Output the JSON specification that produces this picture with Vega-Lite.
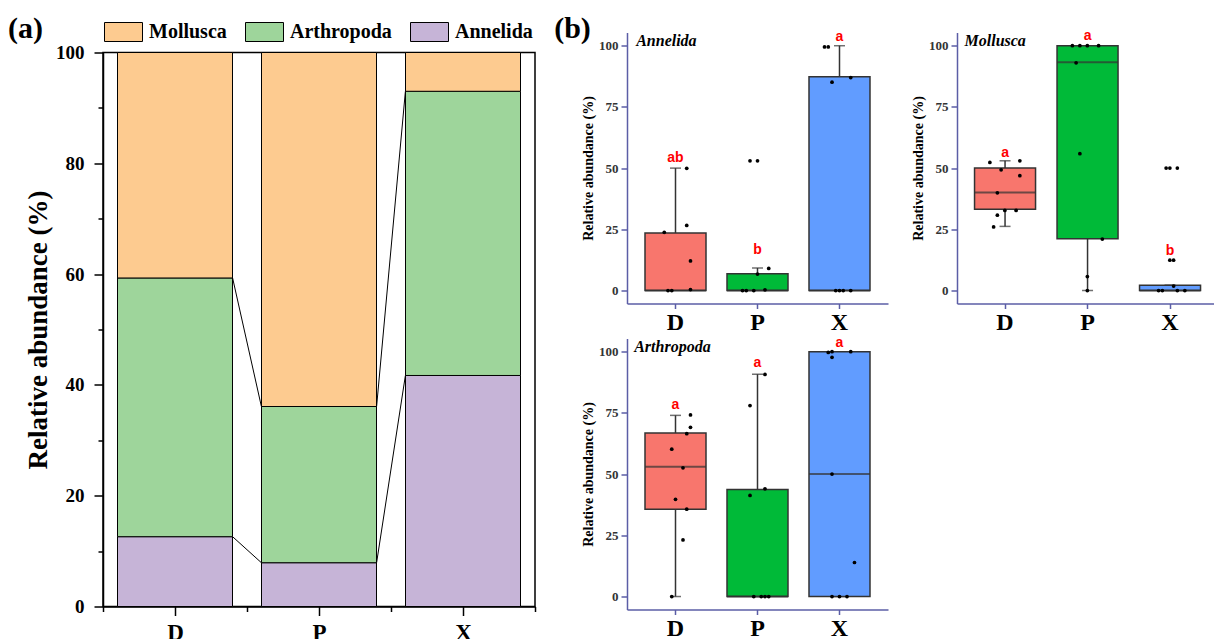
{
  "$schema": "https://vega.github.io/schema/vega-lite/v6.json",
  "background": "white",
  "padding": {"left": 7, "top": 12.5, "right": 0, "bottom": 0},
  "config": {
    "font": "Liberation Serif",
    "view": {"stroke": null},
    "axis": {"grid": false}
  },
  "datasets": {
    "comp": [
      {"site": "D", "phylum": "Annelida", "pct": 12.6},
      {"site": "D", "phylum": "Arthropoda", "pct": 46.7},
      {"site": "D", "phylum": "Mollusca", "pct": 40.7},
      {"site": "P", "phylum": "Annelida", "pct": 7.9},
      {"site": "P", "phylum": "Arthropoda", "pct": 28.2},
      {"site": "P", "phylum": "Mollusca", "pct": 63.9},
      {"site": "X", "phylum": "Annelida", "pct": 41.7},
      {"site": "X", "phylum": "Arthropoda", "pct": 51.3},
      {"site": "X", "phylum": "Mollusca", "pct": 7.0}
    ],
    "links": [
      {"from": "D", "to": "P", "y0": 12.6, "y1": 7.9},
      {"from": "D", "to": "P", "y0": 59.3, "y1": 36.1},
      {"from": "P", "to": "X", "y0": 7.9, "y1": 41.7},
      {"from": "P", "to": "X", "y0": 36.1, "y1": 93.0}
    ],
    "boxes": [
      {"panel": "Annelida", "group": "D", "lo": 0, "q1": 0, "med": 0, "q3": 23.5, "hi": 50},
      {"panel": "Annelida", "group": "P", "lo": 0, "q1": 0, "med": 0, "q3": 6.9, "hi": 9.2},
      {"panel": "Annelida", "group": "X", "lo": 0, "q1": 0, "med": 0, "q3": 87.3, "hi": 100},
      {"panel": "Mollusca", "group": "D", "lo": 26.2, "q1": 33.2, "med": 40, "q3": 50, "hi": 53},
      {"panel": "Mollusca", "group": "P", "lo": 0, "q1": 21.2, "med": 93.2, "q3": 100, "hi": 100},
      {"panel": "Mollusca", "group": "X", "lo": 0, "q1": 0, "med": 0, "q3": 2.2, "hi": 2.2},
      {"panel": "Arthropoda", "group": "D", "lo": 0, "q1": 35.7, "med": 53, "q3": 66.8, "hi": 74},
      {"panel": "Arthropoda", "group": "P", "lo": 0, "q1": 0, "med": 0, "q3": 43.7, "hi": 90.8},
      {"panel": "Arthropoda", "group": "X", "lo": 0, "q1": 0, "med": 50, "q3": 100, "hi": 100}
    ],
    "pts": [
      {"panel": "Annelida", "group": "D", "s": 2, "v": 23.8},
      {"panel": "Annelida", "group": "D", "s": 8, "v": 49.9},
      {"panel": "Annelida", "group": "D", "s": 8, "v": 26.6},
      {"panel": "Annelida", "group": "D", "s": 9, "v": 12.1},
      {"panel": "Annelida", "group": "D", "s": 3, "v": 0},
      {"panel": "Annelida", "group": "D", "s": 4, "v": 0},
      {"panel": "Annelida", "group": "D", "s": 9, "v": 0.4},
      {"panel": "Annelida", "group": "P", "s": 3, "v": 53},
      {"panel": "Annelida", "group": "P", "s": 5, "v": 53},
      {"panel": "Annelida", "group": "P", "s": 5, "v": 6.7},
      {"panel": "Annelida", "group": "P", "s": 8, "v": 9},
      {"panel": "Annelida", "group": "P", "s": 1, "v": 0},
      {"panel": "Annelida", "group": "P", "s": 2, "v": 0},
      {"panel": "Annelida", "group": "P", "s": 4, "v": 0},
      {"panel": "Annelida", "group": "P", "s": 7, "v": 0.3},
      {"panel": "Annelida", "group": "X", "s": 1, "v": 99.5},
      {"panel": "Annelida", "group": "X", "s": 2, "v": 99.5},
      {"panel": "Annelida", "group": "X", "s": 3, "v": 85.1},
      {"panel": "Annelida", "group": "X", "s": 8, "v": 87},
      {"panel": "Annelida", "group": "X", "s": 4, "v": 0},
      {"panel": "Annelida", "group": "X", "s": 5, "v": 0},
      {"panel": "Annelida", "group": "X", "s": 6, "v": 0},
      {"panel": "Annelida", "group": "X", "s": 8, "v": 0},
      {"panel": "Mollusca", "group": "D", "s": 1, "v": 52.3},
      {"panel": "Mollusca", "group": "D", "s": 4, "v": 49.3},
      {"panel": "Mollusca", "group": "D", "s": 9, "v": 46.9},
      {"panel": "Mollusca", "group": "D", "s": 3, "v": 39.9},
      {"panel": "Mollusca", "group": "D", "s": 5, "v": 32.7},
      {"panel": "Mollusca", "group": "D", "s": 8, "v": 32.7},
      {"panel": "Mollusca", "group": "D", "s": 3, "v": 30.8},
      {"panel": "Mollusca", "group": "D", "s": 2, "v": 26},
      {"panel": "Mollusca", "group": "D", "s": 9, "v": 53},
      {"panel": "Mollusca", "group": "P", "s": 1, "v": 100},
      {"panel": "Mollusca", "group": "P", "s": 3, "v": 100},
      {"panel": "Mollusca", "group": "P", "s": 5, "v": 100},
      {"panel": "Mollusca", "group": "P", "s": 8, "v": 100},
      {"panel": "Mollusca", "group": "P", "s": 2, "v": 93},
      {"panel": "Mollusca", "group": "P", "s": 3, "v": 55.9},
      {"panel": "Mollusca", "group": "P", "s": 9, "v": 21},
      {"panel": "Mollusca", "group": "P", "s": 5, "v": 5.7},
      {"panel": "Mollusca", "group": "P", "s": 5, "v": 0},
      {"panel": "Mollusca", "group": "X", "s": 4, "v": 50},
      {"panel": "Mollusca", "group": "X", "s": 5, "v": 50},
      {"panel": "Mollusca", "group": "X", "s": 7, "v": 50},
      {"panel": "Mollusca", "group": "X", "s": 5, "v": 12.4},
      {"panel": "Mollusca", "group": "X", "s": 6, "v": 12.4},
      {"panel": "Mollusca", "group": "X", "s": 2, "v": 0},
      {"panel": "Mollusca", "group": "X", "s": 3, "v": 0},
      {"panel": "Mollusca", "group": "X", "s": 6, "v": 1.8},
      {"panel": "Mollusca", "group": "X", "s": 7, "v": 0},
      {"panel": "Mollusca", "group": "X", "s": 9, "v": 0},
      {"panel": "Arthropoda", "group": "D", "s": 9, "v": 74.2},
      {"panel": "Arthropoda", "group": "D", "s": 9, "v": 69.1},
      {"panel": "Arthropoda", "group": "D", "s": 8, "v": 66.5},
      {"panel": "Arthropoda", "group": "D", "s": 4, "v": 60.2},
      {"panel": "Arthropoda", "group": "D", "s": 7, "v": 52.6},
      {"panel": "Arthropoda", "group": "D", "s": 5, "v": 39.7},
      {"panel": "Arthropoda", "group": "D", "s": 8, "v": 35.7},
      {"panel": "Arthropoda", "group": "D", "s": 7, "v": 23.1},
      {"panel": "Arthropoda", "group": "D", "s": 4, "v": 0},
      {"panel": "Arthropoda", "group": "P", "s": 7, "v": 90.7},
      {"panel": "Arthropoda", "group": "P", "s": 3, "v": 78},
      {"panel": "Arthropoda", "group": "P", "s": 7, "v": 44},
      {"panel": "Arthropoda", "group": "P", "s": 3, "v": 41.3},
      {"panel": "Arthropoda", "group": "P", "s": 4, "v": 0},
      {"panel": "Arthropoda", "group": "P", "s": 6, "v": 0},
      {"panel": "Arthropoda", "group": "P", "s": 7, "v": 0},
      {"panel": "Arthropoda", "group": "P", "s": 8, "v": 0},
      {"panel": "Arthropoda", "group": "X", "s": 2, "v": 99.7},
      {"panel": "Arthropoda", "group": "X", "s": 3, "v": 100},
      {"panel": "Arthropoda", "group": "X", "s": 3, "v": 97.7},
      {"panel": "Arthropoda", "group": "X", "s": 8, "v": 100},
      {"panel": "Arthropoda", "group": "X", "s": 3, "v": 50},
      {"panel": "Arthropoda", "group": "X", "s": 9, "v": 13.9},
      {"panel": "Arthropoda", "group": "X", "s": 3, "v": 0},
      {"panel": "Arthropoda", "group": "X", "s": 5, "v": 0},
      {"panel": "Arthropoda", "group": "X", "s": 7, "v": 0}
    ],
    "letters": [
      {"panel": "Annelida", "group": "D", "lab": "ab", "v": 54},
      {"panel": "Annelida", "group": "P", "lab": "b", "v": 16.6},
      {"panel": "Annelida", "group": "X", "lab": "a", "v": 103.5},
      {"panel": "Mollusca", "group": "D", "lab": "a", "v": 56},
      {"panel": "Mollusca", "group": "P", "lab": "a", "v": 103.8},
      {"panel": "Mollusca", "group": "X", "lab": "b", "v": 16},
      {"panel": "Arthropoda", "group": "D", "lab": "a", "v": 78.3},
      {"panel": "Arthropoda", "group": "P", "lab": "a", "v": 95.2},
      {"panel": "Arthropoda", "group": "X", "lab": "a", "v": 103.6}
    ]
  },
  "spacing": 17,
  "hconcat": [
    {
      "spacing": 19,
      "bounds": "flush",
      "vconcat": [
        {
          "width": 432, "height": 1,
          "data": {"values": [{"k": 1}]},
          "mark": {"type": "point", "opacity": 0},
          "encoding": {}
        },
        {
          "width": 432, "height": 554,
          "view": {"stroke": "black", "strokeWidth": 1.5},
          "resolve": {"axis": {"x": "independent", "y": "independent"}},
          "layer": [
            {
              "data": {"name": "comp"},
              "mark": {"type": "bar", "width": 115, "stroke": "black", "strokeWidth": 1},
              "encoding": {
                "x": {"field": "site", "type": "nominal", "title": null,
                  "scale": {"type": "band", "domain": ["D", "P", "X"], "paddingInner": 0, "paddingOuter": 0},
                  "axis": {"orient": "bottom", "title": null, "tickBand": "extent", "tickSize": 5, "tickColor": "black", "tickWidth": 1.5, "domainColor": "black", "domainWidth": 1.5, "labelAngle": 0, "labelFont": "Liberation Serif", "labelFontSize": 23, "labelFontWeight": "bold", "labelColor": "black", "labelPadding": 10}},
                "y": {"field": "pct", "type": "quantitative", "stack": "zero", "title": "Relative abundance (%)",
                  "scale": {"domain": [0, 100], "nice": false},
                  "axis": {"orient": "left", "values": [0, 20, 40, 60, 80, 100], "title": "Relative abundance (%)", "titleFont": "Liberation Serif", "titleFontSize": 27, "titleFontWeight": "bold", "titleColor": "black", "titlePadding": 3, "labelFont": "Liberation Serif", "labelFontSize": 19, "labelFontWeight": "bold", "labelColor": "black", "tickSize": 9, "tickColor": "black", "tickWidth": 1.5, "domainColor": "black", "domainWidth": 1.5, "labelPadding": 10, "grid": false}},
                "color": {"field": "phylum", "type": "nominal",
                  "scale": {"domain": ["Mollusca", "Arthropoda", "Annelida"], "range": ["#FDCB90", "#9ED59B", "#C6B4D7"]},
                  "legend": {"orient": "none", "legendX": 1, "legendY": -20, "direction": "horizontal", "title": null, "symbolType": "M-1,-0.5H1V0.5H-1Z", "symbolSize": 1444, "symbolStrokeColor": "black", "symbolStrokeWidth": 1, "symbolOpacity": 1, "labelFont": "Liberation Serif", "labelFontSize": 20, "labelFontWeight": "bold", "labelColor": "black", "labelOffset": 6, "columnPadding": 16}},
                "order": {"field": "phylum", "sort": "ascending"}
              }
            },
            {
              "data": {"name": "links"},
              "mark": {"type": "rule", "color": "black", "strokeWidth": 1},
              "encoding": {
                "x": {"field": "from", "type": "nominal", "bandPosition": 0.9, "title": null,
                  "axis": {"orient": "bottom", "title": null, "labels": false, "domain": false, "tickSize": 9, "tickColor": "black", "tickWidth": 1.5}},
                "x2": {"field": "to", "bandPosition": 0.1},
                "y": {"field": "y0", "type": "quantitative", "title": null,
                  "axis": {"orient": "left", "values": [10, 30, 50, 70, 90], "labels": false, "domain": false, "tickSize": 5, "tickColor": "black", "tickWidth": 1.5, "title": null, "grid": false}},
                "y2": {"field": "y1"}
              }
            },
            {
              "data": {"values": [{"t": "(a)"}]},
              "mark": {"type": "text", "align": "left", "baseline": "alphabetic", "dx": -95, "dy": -15, "font": "Liberation Serif", "fontSize": 30, "fontWeight": "bold", "color": "black"},
              "encoding": {
                "x": {"datum": "D", "bandPosition": 0, "axis": null},
                "y": {"datum": 100, "axis": null},
                "text": {"field": "t"}
              }
            }
          ]
        }
      ]
    },
    {
      "spacing": 1,
      "vconcat": [
        {
          "spacing": 23,
          "hconcat": [
            {
              "width": 261, "height": 271,
              "layer": [
                {
                  "data": {"name": "boxes"}, "transform": [{"filter": "datum.panel === 'Annelida'"}],
                  "mark": {"type": "rule", "color": "#333333", "strokeWidth": 1.5},
                  "encoding": {
                    "x": {"field": "group", "type": "nominal", "title": null, "scale": {"type": "band", "domain": ["D", "P", "X"], "paddingInner": 0.26, "paddingOuter": 0.2215},
                      "axis": {"title": null, "labelAngle": 0, "labelFont": "Liberation Serif", "labelFontSize": 24, "labelFontWeight": "bold", "labelColor": "black", "tickSize": 5, "tickColor": "#5B5EA6", "tickWidth": 1.5, "domainColor": "#5B5EA6", "domainWidth": 1.5, "labelPadding": 2}},
                    "y": {"field": "lo", "type": "quantitative", "title": "Relative abundance (%)", "scale": {"domain": [-5.3, 105.4], "nice": false, "zero": false},
                      "axis": {"values": [0, 25, 50, 75, 100], "title": "Relative abundance (%)", "titleFont": "Liberation Serif", "titleFontSize": 14, "titleFontWeight": "bold", "titleColor": "black", "titlePadding": 3, "labelFont": "Liberation Serif", "labelFontSize": 13, "labelFontWeight": "bold", "labelColor": "#333333", "tickSize": 6, "tickColor": "#5B5EA6", "tickWidth": 1.5, "domainColor": "#5B5EA6", "domainWidth": 1.5, "labelPadding": 3, "grid": false}},
                    "y2": {"field": "hi"}
                  }
                },
                {
                  "data": {"name": "boxes"}, "transform": [{"filter": "datum.panel === 'Annelida'"}],
                  "mark": {"type": "tick", "color": "#333333", "thickness": 1.5, "size": 11},
                  "encoding": {"x": {"field": "group", "type": "nominal", "title": null}, "y": {"field": "hi", "type": "quantitative", "title": "Relative abundance (%)"}}
                },
                {
                  "data": {"name": "boxes"}, "transform": [{"filter": "datum.panel === 'Annelida'"}],
                  "mark": {"type": "bar", "width": 61, "stroke": "#333333", "strokeWidth": 1.5},
                  "encoding": {
                    "x": {"field": "group", "type": "nominal", "title": null},
                    "y": {"field": "q1", "type": "quantitative", "title": "Relative abundance (%)"},
                    "y2": {"field": "q3"},
                    "fill": {"field": "group", "type": "nominal", "scale": {"domain": ["D", "P", "X"], "range": ["#F8766D", "#00BA38", "#619CFF"]}, "legend": null}
                  }
                },
                {
                  "data": {"name": "boxes"}, "transform": [{"filter": "datum.panel === 'Annelida'"}],
                  "mark": {"type": "tick", "color": "#333333", "thickness": 2, "size": 61},
                  "encoding": {"x": {"field": "group", "type": "nominal", "title": null}, "y": {"field": "med", "type": "quantitative", "title": "Relative abundance (%)"}}
                },
                {
                  "data": {"name": "pts"}, "transform": [{"filter": "datum.panel === 'Annelida'"}],
                  "mark": {"type": "circle", "size": 14, "color": "black", "opacity": 1},
                  "encoding": {
                    "x": {"field": "group", "type": "nominal", "title": null},
                    "xOffset": {"field": "s", "type": "nominal", "scale": {"domain": [-3, -2, -1, 0, 1, 2, 3, 4, 5, 6, 7, 8, 9, 10, 11, 12, 13], "paddingInner": 0, "paddingOuter": 0.1}},
                    "y": {"field": "v", "type": "quantitative", "title": "Relative abundance (%)"}
                  }
                },
                {
                  "data": {"name": "letters"}, "transform": [{"filter": "datum.panel === 'Annelida'"}],
                  "mark": {"type": "text", "color": "#FF0000", "font": "Liberation Sans", "fontWeight": "bold", "fontSize": 14, "baseline": "middle"},
                  "encoding": {"x": {"field": "group", "type": "nominal", "title": null}, "y": {"field": "v", "type": "quantitative", "title": "Relative abundance (%)"}, "text": {"field": "lab"}}
                },
                {
                  "data": {"values": [{"t": "Annelida"}]},
                  "mark": {"type": "text", "align": "left", "baseline": "alphabetic", "dx": -9, "font": "Liberation Serif", "fontSize": 16, "fontStyle": "italic", "fontWeight": "bold", "color": "black"},
                  "encoding": {"x": {"datum": "D", "bandPosition": 0}, "y": {"datum": 100}, "text": {"field": "t"}}
                },
                {
                  "data": {"values": [{"t": "(b)"}]},
                  "mark": {"type": "text", "align": "left", "baseline": "alphabetic", "dx": -91, "dy": -8, "font": "Liberation Serif", "fontSize": 30, "fontWeight": "bold", "color": "black"},
                  "encoding": {"x": {"datum": "D", "bandPosition": 0}, "y": {"datum": 100}, "text": {"field": "t"}}
                }
              ]
            },
            {
              "width": 257, "height": 271,
              "layer": [
                {
                  "data": {"name": "boxes"}, "transform": [{"filter": "datum.panel === 'Mollusca'"}],
                  "mark": {"type": "rule", "color": "#333333", "strokeWidth": 1.5},
                  "encoding": {
                    "x": {"field": "group", "type": "nominal", "title": null, "scale": {"type": "band", "domain": ["D", "P", "X"], "paddingInner": 0.26, "paddingOuter": 0.1876, "align": 0.566},
                      "axis": {"title": null, "labelAngle": 0, "labelFont": "Liberation Serif", "labelFontSize": 24, "labelFontWeight": "bold", "labelColor": "black", "tickSize": 5, "tickColor": "#5B5EA6", "tickWidth": 1.5, "domainColor": "#5B5EA6", "domainWidth": 1.5, "labelPadding": 2}},
                    "y": {"field": "lo", "type": "quantitative", "title": "Relative abundance (%)", "scale": {"domain": [-5.3, 105.4], "nice": false, "zero": false},
                      "axis": {"values": [0, 25, 50, 75, 100], "title": "Relative abundance (%)", "titleFont": "Liberation Serif", "titleFontSize": 14, "titleFontWeight": "bold", "titleColor": "black", "titlePadding": 3, "labelFont": "Liberation Serif", "labelFontSize": 13, "labelFontWeight": "bold", "labelColor": "#333333", "tickSize": 6, "tickColor": "#5B5EA6", "tickWidth": 1.5, "domainColor": "#5B5EA6", "domainWidth": 1.5, "labelPadding": 3, "grid": false}},
                    "y2": {"field": "hi"}
                  }
                },
                {
                  "data": {"name": "boxes"}, "transform": [{"filter": "datum.panel === 'Mollusca'"}],
                  "mark": {"type": "tick", "color": "#333333", "thickness": 1.5, "size": 11},
                  "encoding": {"x": {"field": "group", "type": "nominal", "title": null}, "y": {"field": "hi", "type": "quantitative", "title": "Relative abundance (%)"}}
                },
                {
                  "data": {"name": "boxes"}, "transform": [{"filter": "datum.panel === 'Mollusca'"}],
                  "mark": {"type": "tick", "color": "#333333", "thickness": 1.5, "size": 11},
                  "encoding": {"x": {"field": "group", "type": "nominal", "title": null}, "y": {"field": "lo", "type": "quantitative", "title": "Relative abundance (%)"}}
                },
                {
                  "data": {"name": "boxes"}, "transform": [{"filter": "datum.panel === 'Mollusca'"}],
                  "mark": {"type": "bar", "width": 61, "stroke": "#333333", "strokeWidth": 1.5},
                  "encoding": {
                    "x": {"field": "group", "type": "nominal", "title": null},
                    "y": {"field": "q1", "type": "quantitative", "title": "Relative abundance (%)"},
                    "y2": {"field": "q3"},
                    "fill": {"field": "group", "type": "nominal", "scale": {"domain": ["D", "P", "X"], "range": ["#F8766D", "#00BA38", "#619CFF"]}, "legend": null}
                  }
                },
                {
                  "data": {"name": "boxes"}, "transform": [{"filter": "datum.panel === 'Mollusca'"}],
                  "mark": {"type": "tick", "color": "#333333", "thickness": 2, "size": 61},
                  "encoding": {"x": {"field": "group", "type": "nominal", "title": null}, "y": {"field": "med", "type": "quantitative", "title": "Relative abundance (%)"}}
                },
                {
                  "data": {"name": "pts"}, "transform": [{"filter": "datum.panel === 'Mollusca'"}],
                  "mark": {"type": "circle", "size": 14, "color": "black", "opacity": 1},
                  "encoding": {
                    "x": {"field": "group", "type": "nominal", "title": null},
                    "xOffset": {"field": "s", "type": "nominal", "scale": {"domain": [-3, -2, -1, 0, 1, 2, 3, 4, 5, 6, 7, 8, 9, 10, 11, 12, 13], "paddingInner": 0, "paddingOuter": 0.1}},
                    "y": {"field": "v", "type": "quantitative", "title": "Relative abundance (%)"}
                  }
                },
                {
                  "data": {"name": "letters"}, "transform": [{"filter": "datum.panel === 'Mollusca'"}],
                  "mark": {"type": "text", "color": "#FF0000", "font": "Liberation Sans", "fontWeight": "bold", "fontSize": 14, "baseline": "middle"},
                  "encoding": {"x": {"field": "group", "type": "nominal", "title": null}, "y": {"field": "v", "type": "quantitative", "title": "Relative abundance (%)"}, "text": {"field": "lab"}}
                },
                {
                  "data": {"values": [{"t": "Mollusca"}]},
                  "mark": {"type": "text", "align": "left", "baseline": "alphabetic", "dx": -10, "font": "Liberation Serif", "fontSize": 16, "fontStyle": "italic", "fontWeight": "bold", "color": "black"},
                  "encoding": {"x": {"datum": "D", "bandPosition": 0}, "y": {"datum": 100}, "text": {"field": "t"}}
                }
              ]
            }
          ]
        },
        {
          "width": 261, "height": 271,
          "layer": [
            {
              "data": {"name": "boxes"}, "transform": [{"filter": "datum.panel === 'Arthropoda'"}],
              "mark": {"type": "rule", "color": "#333333", "strokeWidth": 1.5},
              "encoding": {
                "x": {"field": "group", "type": "nominal", "title": null, "scale": {"type": "band", "domain": ["D", "P", "X"], "paddingInner": 0.26, "paddingOuter": 0.2215},
                  "axis": {"title": null, "labelAngle": 0, "labelFont": "Liberation Serif", "labelFontSize": 24, "labelFontWeight": "bold", "labelColor": "black", "tickSize": 5, "tickColor": "#5B5EA6", "tickWidth": 1.5, "domainColor": "#5B5EA6", "domainWidth": 1.5, "labelPadding": 2}},
                "y": {"field": "lo", "type": "quantitative", "title": "Relative abundance (%)", "scale": {"domain": [-5.3, 105.4], "nice": false, "zero": false},
                  "axis": {"values": [0, 25, 50, 75, 100], "title": "Relative abundance (%)", "titleFont": "Liberation Serif", "titleFontSize": 14, "titleFontWeight": "bold", "titleColor": "black", "titlePadding": 3, "labelFont": "Liberation Serif", "labelFontSize": 13, "labelFontWeight": "bold", "labelColor": "#333333", "tickSize": 6, "tickColor": "#5B5EA6", "tickWidth": 1.5, "domainColor": "#5B5EA6", "domainWidth": 1.5, "labelPadding": 3, "grid": false}},
                "y2": {"field": "hi"}
              }
            },
            {
              "data": {"name": "boxes"}, "transform": [{"filter": "datum.panel === 'Arthropoda'"}],
              "mark": {"type": "tick", "color": "#333333", "thickness": 1.5, "size": 11},
              "encoding": {"x": {"field": "group", "type": "nominal", "title": null}, "y": {"field": "hi", "type": "quantitative", "title": "Relative abundance (%)"}}
            },
            {
              "data": {"name": "boxes"}, "transform": [{"filter": "datum.panel === 'Arthropoda'"}],
              "mark": {"type": "tick", "color": "#333333", "thickness": 1.5, "size": 11},
              "encoding": {"x": {"field": "group", "type": "nominal", "title": null}, "y": {"field": "lo", "type": "quantitative", "title": "Relative abundance (%)"}}
            },
            {
              "data": {"name": "boxes"}, "transform": [{"filter": "datum.panel === 'Arthropoda'"}],
              "mark": {"type": "bar", "width": 61, "stroke": "#333333", "strokeWidth": 1.5},
              "encoding": {
                "x": {"field": "group", "type": "nominal", "title": null},
                "y": {"field": "q1", "type": "quantitative", "title": "Relative abundance (%)"},
                "y2": {"field": "q3"},
                "fill": {"field": "group", "type": "nominal", "scale": {"domain": ["D", "P", "X"], "range": ["#F8766D", "#00BA38", "#619CFF"]}, "legend": null}
              }
            },
            {
              "data": {"name": "boxes"}, "transform": [{"filter": "datum.panel === 'Arthropoda'"}],
              "mark": {"type": "tick", "color": "#333333", "thickness": 2, "size": 61},
              "encoding": {"x": {"field": "group", "type": "nominal", "title": null}, "y": {"field": "med", "type": "quantitative", "title": "Relative abundance (%)"}}
            },
            {
              "data": {"name": "pts"}, "transform": [{"filter": "datum.panel === 'Arthropoda'"}],
              "mark": {"type": "circle", "size": 14, "color": "black", "opacity": 1},
              "encoding": {
                "x": {"field": "group", "type": "nominal", "title": null},
                "xOffset": {"field": "s", "type": "nominal", "scale": {"domain": [-3, -2, -1, 0, 1, 2, 3, 4, 5, 6, 7, 8, 9, 10, 11, 12, 13], "paddingInner": 0, "paddingOuter": 0.1}},
                "y": {"field": "v", "type": "quantitative", "title": "Relative abundance (%)"}
              }
            },
            {
              "data": {"name": "letters"}, "transform": [{"filter": "datum.panel === 'Arthropoda'"}],
              "mark": {"type": "text", "color": "#FF0000", "font": "Liberation Sans", "fontWeight": "bold", "fontSize": 14, "baseline": "middle"},
              "encoding": {"x": {"field": "group", "type": "nominal", "title": null}, "y": {"field": "v", "type": "quantitative", "title": "Relative abundance (%)"}, "text": {"field": "lab"}}
            },
            {
              "data": {"values": [{"t": "Arthropoda"}]},
              "mark": {"type": "text", "align": "left", "baseline": "alphabetic", "dx": -11, "font": "Liberation Serif", "fontSize": 16, "fontStyle": "italic", "fontWeight": "bold", "color": "black"},
              "encoding": {"x": {"datum": "D", "bandPosition": 0}, "y": {"datum": 100}, "text": {"field": "t"}}
            }
          ]
        }
      ]
    }
  ]
}
